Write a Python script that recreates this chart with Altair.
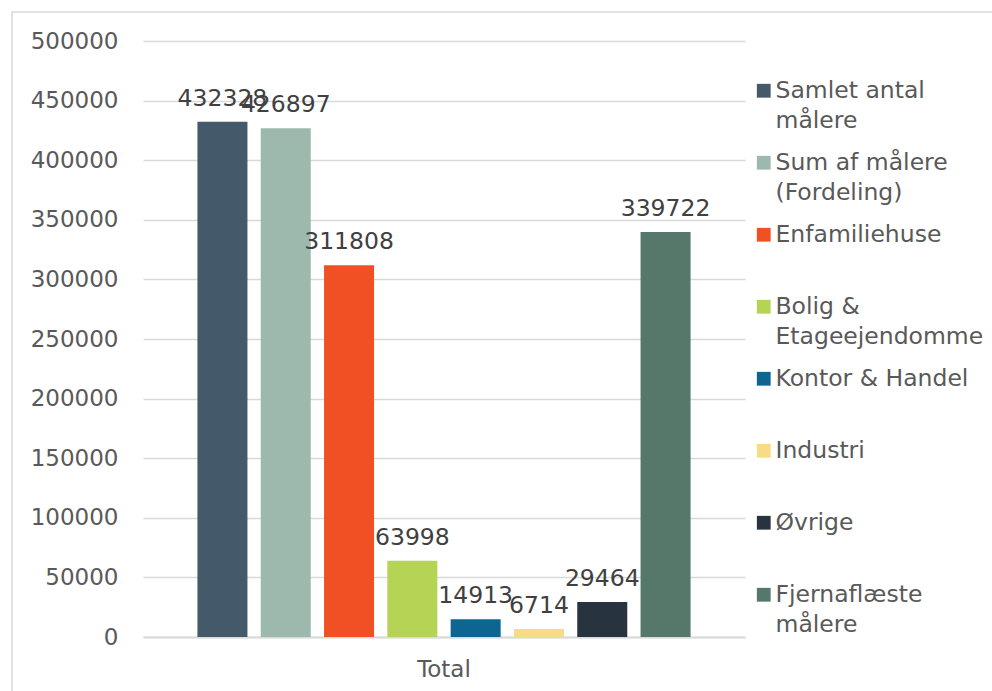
import altair as alt
import pandas as pd

series = ["Samlet antal målere", "Sum af målere (Fordeling)", "Enfamiliehuse",
          "Bolig & Etageejendomme", "Kontor & Handel", "Industri", "Øvrige",
          "Fjernaflæste målere"]
values = [432328, 426897, 311808, 63998, 14913, 6714, 29464, 339722]
colors = ["#44596a", "#9db9ae", "#f05023", "#b5d455", "#0e6591", "#f8db85",
          "#27343f", "#56786b"]
legend_lines = [["Samlet antal", "målere"], ["Sum af målere", "(Fordeling)"],
                ["Enfamiliehuse", " "], ["Bolig &", "Etageejendomme"],
                ["Kontor & Handel", " "], ["Industri", " "], ["Øvrige", " "],
                ["Fjernaflæste", "målere"]]
category = "Total"

df = pd.DataFrame({"cat": [category] * len(series), "serie": series, "value": values})

# legend labels split over two lines
expr = "datum.label"
for name, lines in reversed(list(zip(series, legend_lines))):
    arr = "[" + ",".join("'" + l + "'" for l in lines) + "]"
    expr = f"datum.label == '{name}' ? {arr} : ({expr})"

FONT = "DejaVu Sans"

x = alt.X("cat:N", title=None,
          scale=alt.Scale(paddingInner=0, paddingOuter=0),
          axis=alt.Axis(labelFontSize=23, labelColor="#595959", labelAngle=0,
                        ticks=False, domainColor="#d9d9d9", domainWidth=2,
                        labelPadding=21, labelFont=FONT))
xo = alt.XOffset("serie:N", sort=series,
                 scale=alt.Scale(paddingInner=0.21, paddingOuter=0.86))
y = alt.Y("value:Q", title=None,
          scale=alt.Scale(domain=[0, 500000]),
          axis=alt.Axis(values=list(range(0, 500001, 50000)), format="d",
                        labelFontSize=23,
                        labelColor="#595959", domain=False, ticks=False,
                        gridColor="#d9d9d9", gridWidth=1.5, labelPadding=25,
                        labelFont=FONT))
color = alt.Color("serie:N", sort=series,
                  scale=alt.Scale(domain=series, range=colors),
                  legend=alt.Legend(title=None, orient="none", legendX=609,
                                    legendY=38, symbolType="square",
                                    symbolSize=190, symbolStrokeWidth=0,
                                    labelFontSize=23.5,
                                    labelColor="#595959", labelFont=FONT,
                                    labelBaseline="middle", rowPadding=17,
                                    labelExpr=expr, labelLimit=300,
                                    labelOffset=0))

base = alt.Chart(df)
bars = base.mark_bar().encode(x=x, xOffset=xo, y=y, color=color)
labels = base.mark_text(baseline="alphabetic", dy=-16, fontSize=23.5,
                        color="#404040", font=FONT).encode(
    x=x, xOffset=xo, y=y, text=alt.Text("value:Q", format="d"))
frame = alt.Chart(pd.DataFrame({"a": [0]})).mark_rect(
    fill=None, stroke="#d9d9d9", strokeWidth=1.5, clip=False).encode(
    x=alt.value(-131), x2=alt.value(870), y=alt.value(-29), y2=alt.value(700))

chart = alt.layer(frame, bars, labels).properties(
    width=602, height=596,
    autosize=alt.AutoSizeParams(type="none"),
    padding={"left": 143, "top": 41, "right": 247, "bottom": 54},
).configure(font=FONT, view=alt.ViewConfig(stroke="transparent"),
            style={"guide-label": {"lineHeight": 30}})

chart.save("out.html", embed_options={"renderer": "svg", "actions": False})
